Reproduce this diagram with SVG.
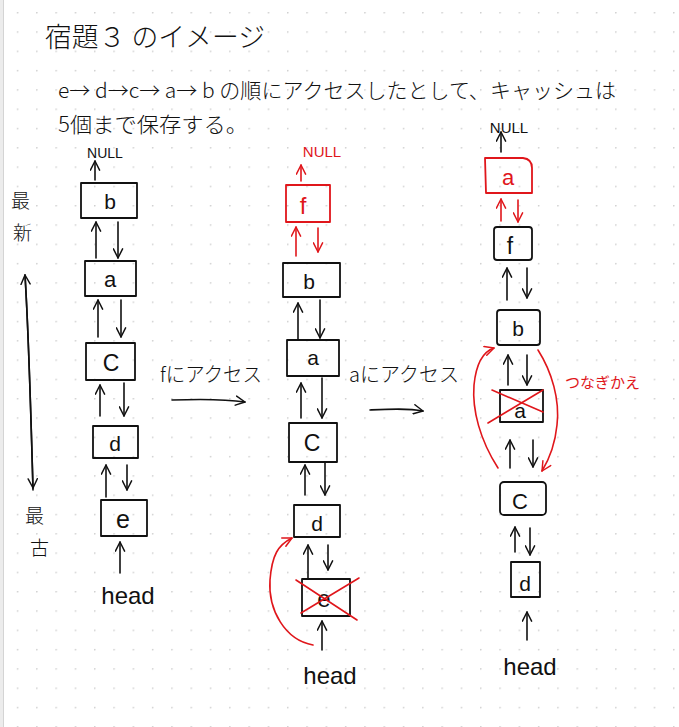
<svg xmlns="http://www.w3.org/2000/svg" width="679" height="727" viewBox="0 0 679 727">
<defs>
<pattern id="dots" x="16.8" y="12" width="19.3" height="19.3" patternUnits="userSpaceOnUse">
<circle cx="0.8" cy="0.8" r="0.8" fill="#c4c4c4"/>
</pattern>
<marker id="ak" viewBox="0 0 12 12" refX="11" refY="6" markerWidth="11" markerHeight="11" markerUnits="userSpaceOnUse" orient="auto">
<path d="M1,1 L11,6 L1,11" fill="none" stroke="#111" stroke-width="1.6" stroke-linecap="round" stroke-linejoin="round"/>
</marker>
<marker id="ar" viewBox="0 0 12 12" refX="11" refY="6" markerWidth="11" markerHeight="11" markerUnits="userSpaceOnUse" orient="auto">
<path d="M1,1 L11,6 L1,11" fill="none" stroke="#e0161b" stroke-width="1.6" stroke-linecap="round" stroke-linejoin="round"/>
</marker>
<style>
.box{fill:none;stroke:#111;stroke-width:1.8;stroke-linejoin:round}
.rbox{fill:none;stroke:#e0161b;stroke-width:1.8;stroke-linejoin:round}
.ln{fill:none;stroke:#111;stroke-width:1.6;stroke-linecap:round;marker-end:url(#ak)}
.rln{fill:none;stroke:#e0161b;stroke-width:1.6;stroke-linecap:round;marker-end:url(#ar)}
.cross{stroke:#e0161b;stroke-width:1.6;stroke-linecap:round}
.jp{font-family:"Noto Sans CJK JP","Noto Sans",sans-serif;fill:#111}
.lt{font-family:"Liberation Sans","DejaVu Sans",sans-serif;fill:#111;text-anchor:middle}
.red{fill:#e0161b}
</style>
</defs>
<rect x="0" y="0" width="679" height="727" fill="#ffffff"/>
<rect x="0" y="0" width="3" height="727" fill="#ececec"/>
<line x1="3.5" y1="0" x2="3.5" y2="727" stroke="#d4d4d4" stroke-width="1"/>
<rect x="4" y="0" width="675" height="727" fill="url(#dots)"/>

<g id="title">
<text class="jp" x="45" y="47" font-size="27" textLength="220" lengthAdjust="spacingAndGlyphs" font-weight="300">宿題３ のイメージ</text>
<text class="jp" x="58" y="98" font-size="21" textLength="558" lengthAdjust="spacingAndGlyphs" font-weight="300">e→ d→c→ a→ b の順にアクセスしたとして、キャッシュは</text>
<text class="jp" x="58" y="132" font-size="21" textLength="190" lengthAdjust="spacingAndGlyphs" font-weight="300">5個まで保存する。</text>
</g>

<g id="axis">
<text class="jp" x="11" y="208" font-size="19" font-weight="300">最</text>
<text class="jp" x="13" y="240" font-size="19" font-weight="300">新</text>
<path class="ln" d="M33,490 C31,420 29,340 25,275"/>
<path class="ln" d="M25,275 C29,340 31,420 33,488"/>
<text class="jp" x="25" y="523" font-size="19" font-weight="300">最</text>
<text class="jp" x="30" y="555" font-size="19" font-weight="300">古</text>
</g>

<!-- Column 1 -->
<g id="c1-null"><text class="lt" x="105" y="158" font-size="14">NULL</text></g>
<g id="c1-b"><rect class="box" x="81" y="183" width="56" height="35"/><text class="lt" x="110" y="209" font-size="21">b</text></g>
<g id="c1-a"><rect class="box" x="85" y="261" width="51" height="35"/><text class="lt" x="110" y="287" font-size="22">a</text></g>
<g id="c1-c"><rect class="box" x="86" y="343" width="49" height="37"/><text class="lt" x="111" y="371" font-size="23">C</text></g>
<g id="c1-d"><rect class="box" x="93" y="426" width="45" height="32"/><text class="lt" x="115" y="451" font-size="21">d</text></g>
<g id="c1-e"><rect class="box" x="101" y="500" width="46" height="36"/><text class="lt" x="123" y="528" font-size="25">e</text></g>
<g id="c1-head"><text class="lt" x="128" y="604" font-size="24">head</text></g>

<!-- transitions -->
<g id="t1">
<text class="jp" x="160" y="382" font-size="20" textLength="102" lengthAdjust="spacingAndGlyphs" font-weight="300">fにアクセス</text>
</g>
<g id="t2">
<text class="jp" x="349" y="382" font-size="20" textLength="110" lengthAdjust="spacingAndGlyphs" font-weight="300">aにアクセス</text>
</g>

<!-- Column 2 -->
<g id="c2-null"><text class="lt red" x="322" y="157" font-size="15">NULL</text></g>
<g id="c2-f"><rect class="rbox" x="286" y="185" width="44" height="37"/><text class="lt red" x="303" y="214" font-size="24">f</text></g>
<g id="c2-b"><rect class="box" x="283" y="263" width="57" height="34"/><text class="lt" x="309" y="289" font-size="21">b</text></g>
<g id="c2-a"><rect class="box" x="287" y="340" width="52" height="36"/><text class="lt" x="313" y="365" font-size="21">a</text></g>
<g id="c2-c"><rect class="box" x="289" y="423" width="48" height="39"/><text class="lt" x="312" y="451" font-size="23">C</text></g>
<g id="c2-d"><rect class="box" x="294" y="505" width="46" height="32"/><text class="lt" x="317" y="531" font-size="21">d</text></g>
<g id="c2-e"><rect class="box" x="302" y="579" width="48" height="37"/><text class="lt" x="324" y="607" font-size="24">e</text>
<line class="cross" x1="296" y1="580" x2="357" y2="620"/><line class="cross" x1="301" y1="613" x2="359" y2="578"/></g>
<g id="c2-head"><text class="lt" x="330" y="684" font-size="24">head</text></g>

<!-- Column 3 -->
<g id="c3-null"><text class="lt" x="509" y="133" font-size="15">NULL</text></g>
<g id="c3-a"><path class="rbox" d="M485,158 L523,158 Q532,159 532,168 L532,193 L486,193 Z"/><text class="lt red" x="508" y="185" font-size="22">a</text></g>
<g id="c3-f"><rect class="box" x="494" y="227" width="38" height="33" rx="3"/><text class="lt" x="510" y="254" font-size="23">f</text></g>
<g id="c3-b"><rect class="box" x="497" y="310" width="43" height="35" rx="3"/><text class="lt" x="518" y="336" font-size="21">b</text></g>
<g id="c3-a2"><rect class="box" x="500" y="390" width="43" height="32"/><text class="lt" x="520" y="418" font-size="21">a</text>
<line class="cross" x1="488" y1="423" x2="543" y2="390"/><line class="cross" x1="492" y1="390" x2="543" y2="412"/></g>
<g id="c3-c"><rect class="box" x="500" y="482" width="46" height="33" rx="4"/><text class="lt" x="520" y="509" font-size="22">C</text></g>
<g id="c3-d"><rect class="box" x="511" y="562" width="29" height="35"/><text class="lt" x="525" y="591" font-size="21">d</text></g>
<g id="c3-head"><text class="lt" x="530" y="675" font-size="24">head</text></g>
<g id="c3-note"><text class="jp red" x="565" y="388" font-size="15" textLength="75" lengthAdjust="spacingAndGlyphs">つなぎかえ</text></g>

<g id="connectors">
<!-- column 1 -->
<path class="ln" d="M95,180 L95,161"/>
<path class="ln" d="M96,258 L96,222"/>
<path class="ln" d="M118,222 L118,258"/>
<path class="ln" d="M98,337 L98,300"/>
<path class="ln" d="M121,300 L121,337"/>
<path class="ln" d="M100,416 L100,385"/>
<path class="ln" d="M124,383 L124,416"/>
<path class="ln" d="M106,497 L106,465"/>
<path class="ln" d="M127,465 L127,490"/>
<path class="ln" d="M120,573 L120,542"/>
<!-- transition arrows -->
<path class="ln" d="M172,400 C200,399 225,399 245,402"/>
<path class="ln" d="M370,410 C390,409 408,408 423,411"/>
<!-- column 2 -->
<path class="rln" d="M301,181 L301,165"/>
<path class="rln" d="M296,256 L296,227"/>
<path class="rln" d="M318,228 L318,252"/>
<path class="ln" d="M298,339 L298,303"/>
<path class="ln" d="M320,300 L320,338"/>
<path class="ln" d="M301,418 L301,383"/>
<path class="ln" d="M322,378 L322,418"/>
<path class="ln" d="M305,495 L305,465"/>
<path class="ln" d="M325,462 L325,495"/>
<path class="ln" d="M308,578 L308,545"/>
<path class="ln" d="M328,545 L328,570"/>
<path class="ln" d="M322,650 L322,621"/>
<path class="rln" d="M313,645 C285,640 268,610 270,580 C272,555 278,545 292,538"/>
<!-- column 3 -->
<path class="ln" d="M501,152 L501,132"/>
<path class="rln" d="M501,221 L501,199"/>
<path class="rln" d="M518,200 L518,222"/>
<path class="ln" d="M507,300 L507,268"/>
<path class="ln" d="M527,268 L527,298"/>
<path class="ln" d="M508,385 L508,355"/>
<path class="ln" d="M527,355 L527,385"/>
<path class="ln" d="M510,468 L510,440"/>
<path class="ln" d="M533,440 L533,467"/>
<path class="ln" d="M515,552 L515,527"/>
<path class="ln" d="M530,528 L530,555"/>
<path class="ln" d="M527,640 L527,612"/>
<path class="rln" d="M498,468 C480,440 472,410 474,385 C476,365 482,352 494,348"/>
<path class="rln" d="M538,350 C552,372 560,400 557,425 C555,445 550,458 542,471"/>
</g>
</svg>
